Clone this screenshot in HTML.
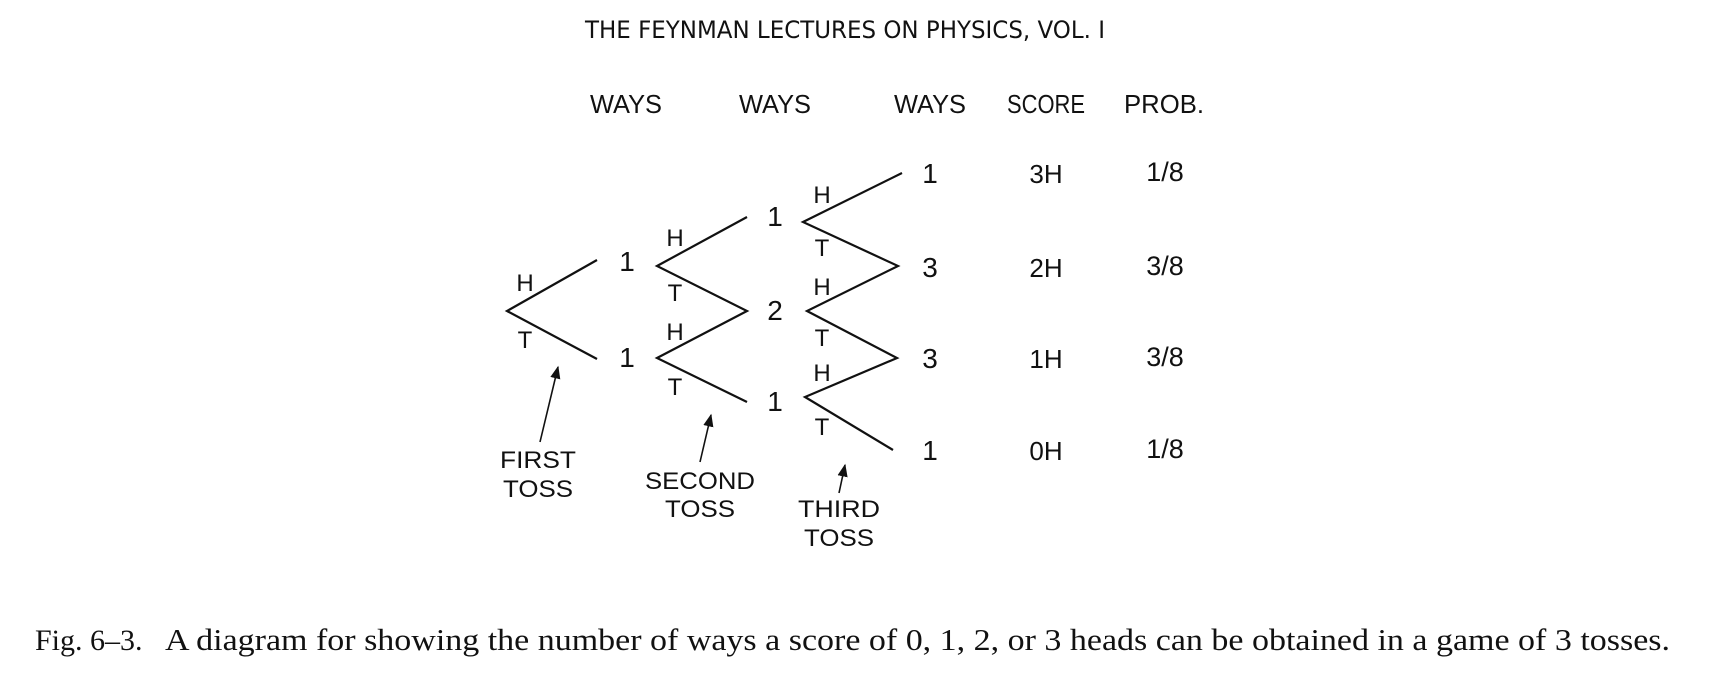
<!DOCTYPE html>
<html><head><meta charset="utf-8"><style>
html,body{margin:0;padding:0;background:#fff;width:1712px;height:684px;overflow:hidden}
svg{display:block}
.s{font-family:"Liberation Sans",sans-serif;fill:#111}
.d{font-family:"DejaVu Sans","Liberation Sans",sans-serif;fill:#111}
.t{font-family:"Liberation Serif",serif;fill:#111}
</style></head><body>
<svg width="1712" height="684" viewBox="0 0 1712 684" xmlns="http://www.w3.org/2000/svg">
<defs><marker id="a" viewBox="0 0 10 10" refX="9" refY="5" markerWidth="8" markerHeight="8" orient="auto"><path d="M0,1 L10,5 L0,9 z" fill="#111"/></marker></defs>
<text class="d" x="585" y="38" font-size="24" textLength="520" lengthAdjust="spacingAndGlyphs">THE FEYNMAN LECTURES ON PHYSICS, VOL. I</text>
<g class="s" font-size="26" text-anchor="middle">
<text x="626" y="113" textLength="72" lengthAdjust="spacingAndGlyphs">WAYS</text>
<text x="775" y="113" textLength="72" lengthAdjust="spacingAndGlyphs">WAYS</text>
<text x="930" y="113" textLength="72" lengthAdjust="spacingAndGlyphs">WAYS</text>
<text x="1046" y="113" textLength="78" lengthAdjust="spacingAndGlyphs">SCORE</text>
<text x="1164" y="113" textLength="80" lengthAdjust="spacingAndGlyphs">PROB.</text>
</g>
<g stroke="#111" stroke-width="2.2" fill="none">
<polyline points="597,260 507,311 597,359"/>
<polyline points="747,217 657,266 747,311 657,358 747,402"/>
<polyline points="902,173 803,222 898,266 807,311 897,358 805,397 893,450"/>
<line x1="540" y1="442" x2="558" y2="367" stroke-width="1.6" marker-end="url(#a)"/>
<line x1="700" y1="462" x2="711" y2="415" stroke-width="1.6" marker-end="url(#a)"/>
<line x1="839" y1="493" x2="845" y2="465" stroke-width="1.6" marker-end="url(#a)"/>
</g>
<g class="s" font-size="28" text-anchor="middle">
<text x="627" y="271">1</text><text x="627" y="367">1</text>
<text x="775" y="226">1</text><text x="775" y="320">2</text><text x="775" y="411">1</text>
<text x="930" y="183">1</text><text x="930" y="277">3</text><text x="930" y="368">3</text><text x="930" y="460">1</text>
</g>
<g class="s" font-size="26" text-anchor="middle">
<text x="1046" y="183">3H</text><text x="1046" y="277">2H</text><text x="1046" y="368">1H</text><text x="1046" y="460">0H</text>
</g>
<g class="s" font-size="27" text-anchor="middle">
<text x="1165" y="181">1/8</text><text x="1165" y="275">3/8</text><text x="1165" y="366">3/8</text><text x="1165" y="458">1/8</text>
</g>
<g class="s" font-size="24" text-anchor="middle">
<text x="525" y="291">H</text><text x="525" y="348">T</text>
<text x="675" y="246">H</text><text x="675" y="301">T</text><text x="675" y="340">H</text><text x="675" y="395">T</text>
<text x="822" y="203">H</text><text x="822" y="256">T</text><text x="822" y="295">H</text><text x="822" y="346">T</text><text x="822" y="381">H</text><text x="822" y="435">T</text>
<text x="538" y="468" textLength="76" lengthAdjust="spacingAndGlyphs">FIRST</text><text x="538" y="497" textLength="70" lengthAdjust="spacingAndGlyphs">TOSS</text>
<text x="700" y="489" textLength="110" lengthAdjust="spacingAndGlyphs">SECOND</text><text x="700" y="517" textLength="70" lengthAdjust="spacingAndGlyphs">TOSS</text>
<text x="839" y="517" textLength="82" lengthAdjust="spacingAndGlyphs">THIRD</text><text x="839" y="546" textLength="70" lengthAdjust="spacingAndGlyphs">TOSS</text>
</g>
<text class="t" x="35" y="650" font-size="30">Fig. 6–3.</text>
<text class="t" x="165" y="650" font-size="31" textLength="1505" lengthAdjust="spacingAndGlyphs">A diagram for showing the number of ways a score of 0, 1, 2, or 3 heads can be obtained in a game of 3 tosses.</text>
</svg>
</body></html>
